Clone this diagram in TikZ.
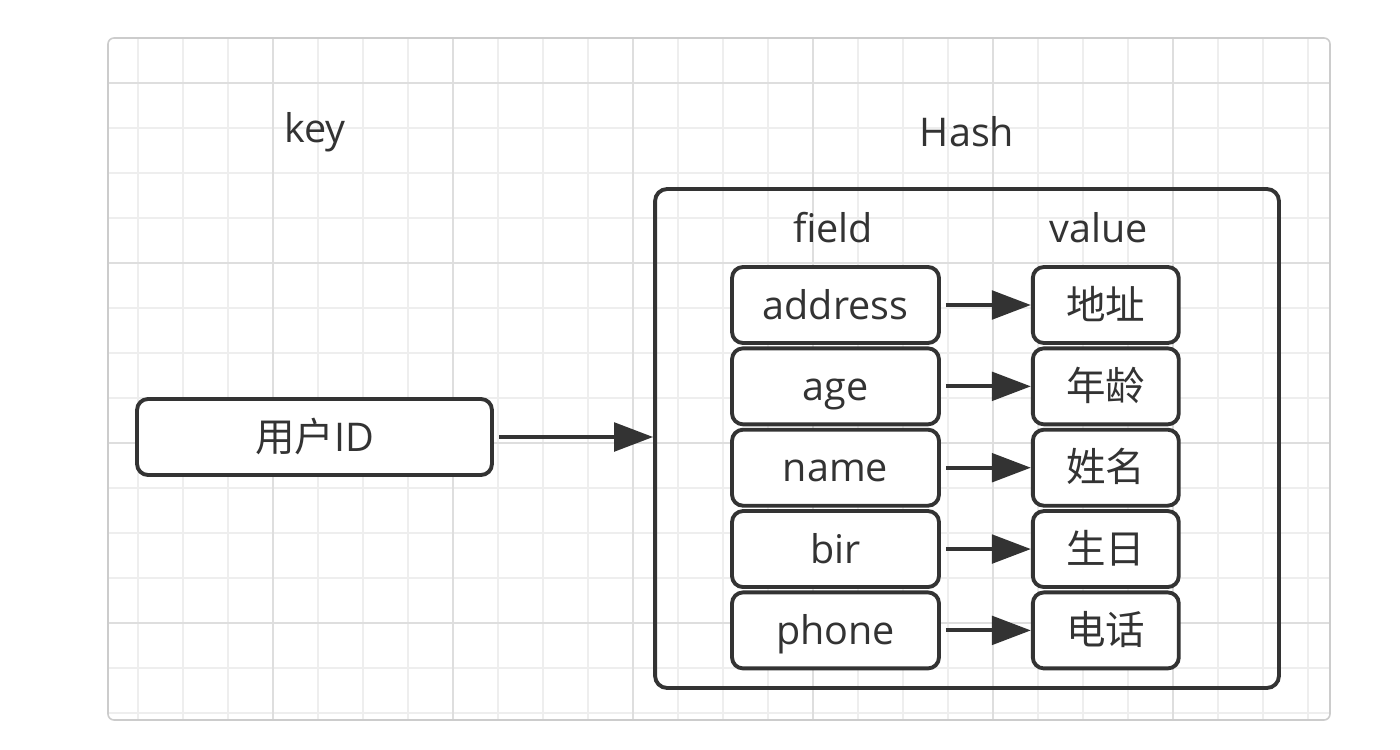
\documentclass[tikz,border=0pt]{standalone}
\usepackage{fontspec}
\setmainfont{Open Sans}
\newfontfamily\cjk{Noto Sans CJK SC}
\usetikzlibrary{arrows.meta,positioning}
\definecolor{ink}{HTML}{333333}
\definecolor{gridminor}{HTML}{EEEEEE}
\definecolor{gridmajor}{HTML}{DEDEDE}
\definecolor{paneledge}{HTML}{CCCCCC}

\begin{document}
\begin{tikzpicture}[x=0.02cm, y=-0.02cm,
    >={Triangle[length=0.78cm,width=0.57cm]},
    font=\fontsize{22.5}{27}\selectfont, text=ink,
    caption/.style={inner sep=0pt, text height=16pt, text depth=0pt},
    box/.style={caption, draw=ink, line width=2.2pt, rounded corners=0.22cm, fill=white},
    fieldbox/.style={box, minimum width=4.14cm, minimum height=1.52cm},
    valbox/.style={box, minimum width=2.92cm, minimum height=1.52cm},
    link/.style={->, draw=ink, line width=2.2pt, shorten <=0.1cm}]
    \useasboundingbox[fill=white] (0,0) rectangle (1400,750);

    % Hintergrund mit Raster
    \fill[white] (108,38) [rounded corners=0.12cm] rectangle (1330,720);
    \begin{scope}
        \clip[rounded corners=0.12cm] (108,38) rectangle (1330,720);
        \foreach \x in {138,183,...,1320} \draw[gridminor, line width=0.8pt] (\x,38) -- (\x,720);
        \foreach \y in {83,128,...,715} \draw[gridminor, line width=0.8pt] (108,\y) -- (1330,\y);
        \foreach \x in {273,453,...,1320} \draw[gridmajor, line width=0.9pt] (\x,38) -- (\x,720);
        \foreach \y in {83,263,...,715} \draw[gridmajor, line width=0.9pt] (108,\y) -- (1330,\y);
    \end{scope}
    \draw[paneledge, line width=0.9pt, rounded corners=0.12cm] (108,38) rectangle (1330,720);

    % Ueberschriften
    \node[caption] (keylabel) at (315,128) {key};
    \node[caption] (hashlabel) at (967,132) {Hash};

    % Hash-Container
    \node[box, rounded corners=0.24cm, fill=none, minimum width=12.48cm, minimum height=9.98cm] (hash) at (967,438.5) {};
    \node[caption] (fieldlabel) at (833,228) {field};
    \node[caption] (valuelabel) at (1099,228) {value};

    % Felder
    \node[fieldbox] (address) at (835.5,305) {address};
    \node[fieldbox, below=0.03cm of address] (age) {age};
    \node[fieldbox, below=0.03cm of age] (name) {name};
    \node[fieldbox, below=0.03cm of name] (bir) {bir};
    \node[fieldbox, below=0.03cm of bir] (phone) {phone};

    % Werte
    \node[valbox, right=1.8cm of address] (vaddress) {\cjk 地址};
    \node[valbox, right=1.8cm of age] (vage) {\cjk 年龄};
    \node[valbox, right=1.8cm of name] (vname) {\cjk 姓名};
    \node[valbox, right=1.8cm of bir] (vbir) {\cjk 生日};
    \node[valbox, right=1.8cm of phone] (vphone) {\cjk 电话};

    \draw[link] (address) -- (vaddress);
    \draw[link] (age) -- (vage);
    \draw[link] (name) -- (vname);
    \draw[link] (bir) -- (vbir);
    \draw[link] (phone) -- (vphone);

    % Schluessel
    \node[box, minimum width=7.1cm, minimum height=1.52cm] (key) at (314.5,437) {{\cjk 用户}ID};
    \draw[link] (key) -- (key -| hash.west);
\end{tikzpicture}
\end{document}
